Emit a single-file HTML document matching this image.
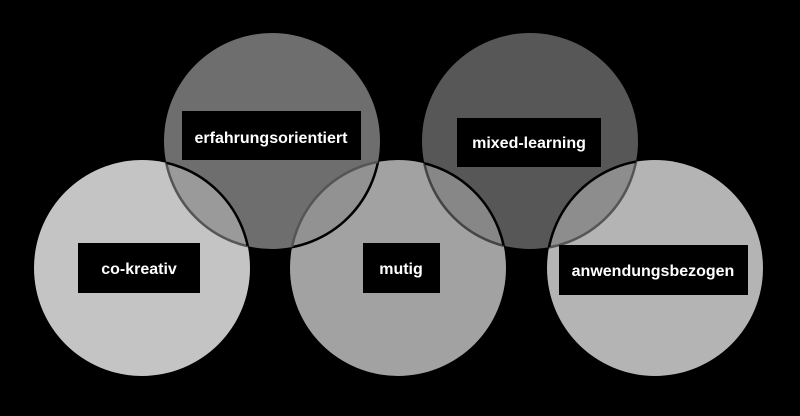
<!DOCTYPE html>
<html><head><meta charset="utf-8"><style>
html,body{margin:0;padding:0;background:#000;}
svg{display:block}
text{font-family:"Liberation Sans",sans-serif;font-weight:bold;font-size:16px;fill:#fff;}
</style></head><body>
<svg width="800" height="416" viewBox="0 0 800 416" xmlns="http://www.w3.org/2000/svg">
<defs>
<clipPath id="erf"><circle cx="272" cy="141" r="108"/></clipPath>
<clipPath id="mix"><circle cx="530" cy="141" r="108"/></clipPath>
<clipPath id="co"><circle cx="142" cy="268" r="108"/></clipPath>
<clipPath id="mu"><circle cx="398" cy="268" r="108"/></clipPath>
<clipPath id="an"><circle cx="655" cy="268" r="108"/></clipPath>
</defs>
<rect width="800" height="416" fill="#000"/>
<circle cx="142" cy="268" r="108" fill="#c4c4c4"/>
<circle cx="398" cy="268" r="108" fill="#a2a2a2"/>
<circle cx="655" cy="268" r="108" fill="#b4b4b4"/>
<circle cx="272" cy="141" r="108" fill="#8e8e8e" fill-opacity="0.776"/>
<circle cx="530" cy="141" r="108" fill="#7c7c7c" fill-opacity="0.7"/>
<g fill="none" stroke-width="2.5">
<circle cx="272" cy="141" r="108" stroke="#555" clip-path="url(#co)"/>
<circle cx="272" cy="141" r="108" stroke="#000" clip-path="url(#mu)"/>
<circle cx="530" cy="141" r="108" stroke="#444" clip-path="url(#mu)"/>
<circle cx="530" cy="141" r="108" stroke="#555" clip-path="url(#an)"/>
<circle cx="142" cy="268" r="108" stroke="#000" clip-path="url(#erf)"/>
<circle cx="398" cy="268" r="108" stroke="#555" clip-path="url(#erf)"/>
<circle cx="398" cy="268" r="108" stroke="#000" clip-path="url(#mix)"/>
<circle cx="655" cy="268" r="108" stroke="#000" clip-path="url(#mix)"/>
</g>
<rect x="182" y="111" width="179" height="49" fill="#000"/>
<text x="271" y="143" text-anchor="middle">erfahrungsorientiert</text>
<rect x="457" y="118" width="144" height="49" fill="#000"/>
<text x="529" y="148" text-anchor="middle">mixed-learning</text>
<rect x="78" y="243" width="122" height="50" fill="#000"/>
<text x="139" y="274" text-anchor="middle">co-kreativ</text>
<rect x="363" y="243" width="77" height="50" fill="#000"/>
<text x="401" y="274" text-anchor="middle">mutig</text>
<rect x="559" y="245" width="189" height="50" fill="#000"/>
<text x="653" y="276" text-anchor="middle">anwendungsbezogen</text>
</svg>
</body></html>
